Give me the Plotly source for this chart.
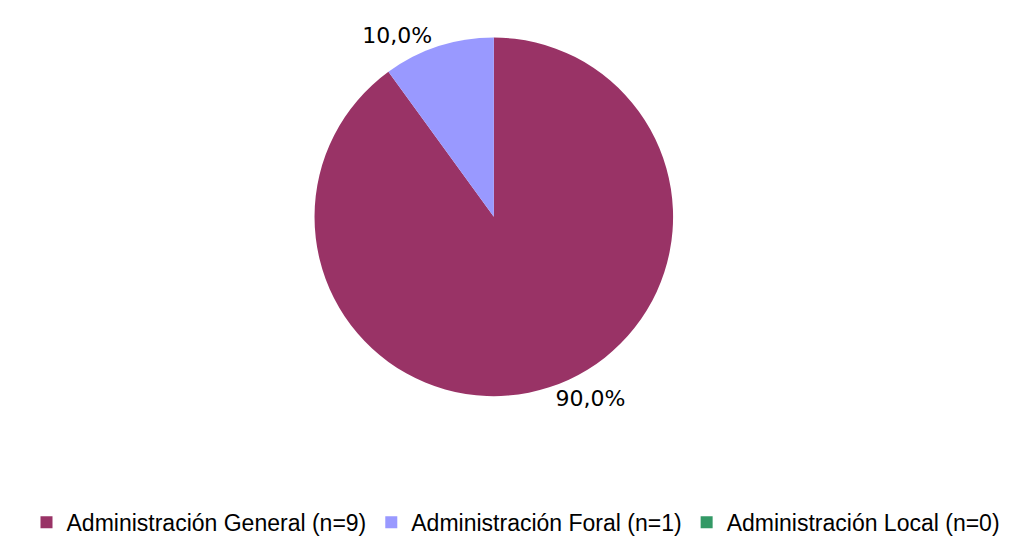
import plotly.graph_objects as go

labels = ["Administración General (n=9)", "Administración Foral (n=1)", "Administración Local (n=0)"]
values = [9, 1, 0]
pct_text = ["90,0%", "10,0%", ""]
colors = ["#993366", "#9999FF", "#339966"]

fig = go.Figure(go.Pie(
    labels=labels,
    values=values,
    text=pct_text,
    textinfo="text",
    textposition="outside",
    sort=False,
    direction="clockwise",
    rotation=0,
    marker=dict(colors=colors, line=dict(width=0)),
    outsidetextfont=dict(family="DejaVu Sans", size=22, color="#000000"),
    domain=dict(x=[0.2992, 0.6571], y=[0.2649, 0.944]),
    hoverinfo="label+percent",
    showlegend=True,
))

fig.update_layout(
    width=1016, height=536,
    margin=dict(l=0, r=0, t=0, b=0),
    paper_bgcolor="white",
    legend=dict(orientation="h", x=0.5, xanchor="center", y=0.026, yanchor="middle",
                font=dict(family="Liberation Sans, Arial", size=23, color="#000000"),
                itemwidth=30, tracegroupgap=0),
)

fig.write_html("out.html")
